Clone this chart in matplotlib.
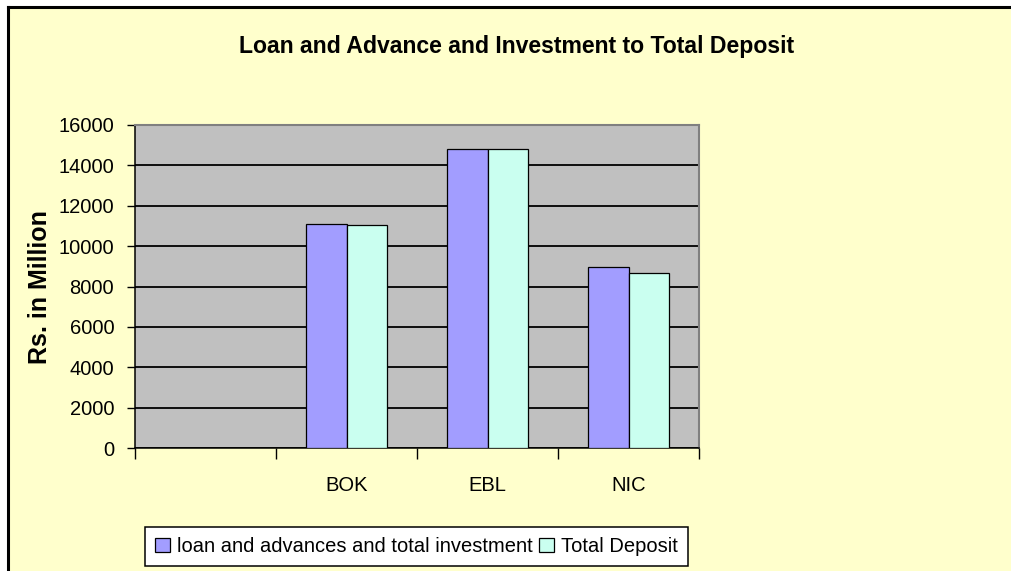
import numpy as np
import matplotlib
matplotlib.use("Agg")
import matplotlib.pyplot as plt
from matplotlib.patches import Rectangle, Patch
from matplotlib.lines import Line2D

categories = ["", "BOK", "EBL", "NIC"]
loan_invest = [np.nan, 11090, 14820, 8980]
total_deposit = [np.nan, 11040, 14810, 8680]
series_names = ["loan and advances and total investment", "Total Deposit"]
y_ticks = [0, 2000, 4000, 6000, 8000, 10000, 12000, 14000, 16000]
title = "Loan and Advance and Investment to Total Deposit"
ylabel = "Rs. in Million"

plt.rcParams["font.family"] = ["Liberation Sans", "DejaVu Sans"]

W, H = 1011, 571
fig = plt.figure(figsize=(W / 100, H / 100), dpi=100)
fig.patch.set_facecolor("white")

# chart area background with top/left border
fig.add_artist(Rectangle((7 / W, 0), 1 - 7 / W, 1 - 6 / H, transform=fig.transFigure,
                         facecolor="#FFFFCC", edgecolor="none", zorder=-10))
fig.add_artist(Line2D([8 / W, 1], [1 - 6.5 / H, 1 - 6.5 / H], transform=fig.transFigure,
                      color="black", lw=2.2, zorder=-5))
fig.add_artist(Line2D([8 / W, 8 / W], [0, 1 - 6.5 / H], transform=fig.transFigure,
                      color="black", lw=2.2, zorder=-5))

ax_l, ax_r, ax_t, ax_b = 135, 699, 125, 448
ax = fig.add_axes([ax_l / W, 1 - ax_b / H, (ax_r - ax_l) / W, (ax_b - ax_t) / H])
ax.set_facecolor("#C0C0C0")

x = np.arange(len(categories))
bw = 1 / 3.5
ax.bar(x - bw / 2, loan_invest, bw, color="#A29DFF", edgecolor="black", linewidth=0.9, zorder=3)
ax.bar(x + bw / 2, total_deposit, bw, color="#CAFFF0", edgecolor="black", linewidth=0.9, zorder=3)

ax.set_xlim(-0.5, len(categories) - 0.5)
ax.set_ylim(0, 16000)
ax.set_yticks(y_ticks)
ax.set_yticklabels([str(v) for v in y_ticks], fontsize=14.5)
ax.yaxis.grid(True, color="black", linewidth=1.3, zorder=1)
ax.set_axisbelow(True)

ax.set_xticks(np.arange(-0.5, len(categories)), minor=False)
ax.set_xticklabels([""] * (len(categories) + 1))
ax.set_xticks(x, minor=True)
ax.set_xticklabels(categories, minor=True, fontsize=14.5)
ax.tick_params(axis="x", which="major", length=8, width=1, direction="out", color="black")
ax.tick_params(axis="x", which="minor", length=0, pad=20)
ax.tick_params(axis="y", length=6, width=1, direction="out", pad=9)

for s in ["left", "bottom"]:
    ax.spines[s].set_color("black")
    ax.spines[s].set_linewidth(1.1)
for s in ["top", "right"]:
    ax.spines[s].set_color("#808080")
    ax.spines[s].set_linewidth(1.5)

fig.text(517 / W, 1 - 53 / H, title, ha="center", va="baseline",
         fontsize=16.6, fontweight="bold")
fig.text(40 / W, 1 - 287 / H, ylabel, ha="center", va="center", rotation=90,
         fontsize=18, fontweight="bold")

handles = [Patch(facecolor="#A29DFF", edgecolor="black", linewidth=0.9),
           Patch(facecolor="#CAFFF0", edgecolor="black", linewidth=0.9)]
leg = fig.legend(handles, series_names, loc="center",
                 bbox_to_anchor=((145 + 688) / 2 / W, 1 - 546.5 / H),
                 ncol=2, fontsize=14.5, frameon=True, fancybox=False,
                 edgecolor="black", facecolor="white", framealpha=1,
                 handlelength=0.75, handleheight=0.75, handletextpad=0.35,
                 columnspacing=0.3, borderpad=0.5, borderaxespad=0)
leg.get_frame().set_linewidth(1.1)

fig.savefig("out.png", dpi=100, facecolor=fig.get_facecolor())
